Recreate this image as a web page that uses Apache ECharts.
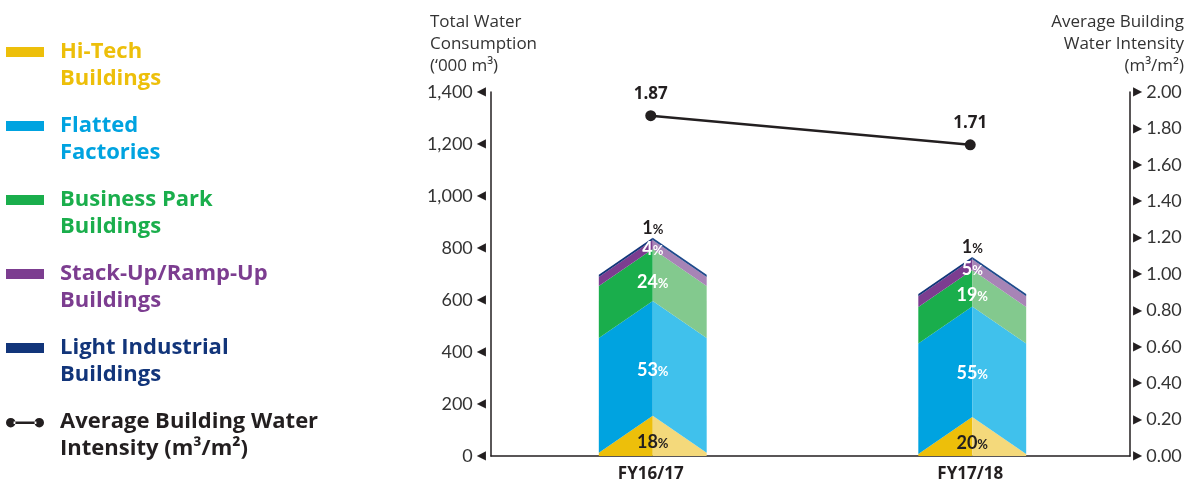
<!DOCTYPE html>
<html><head><meta charset="utf-8">
<script src="https://cdn.jsdelivr.net/npm/echarts@6/dist/echarts.min.js"></script>
<style>html,body{margin:0;padding:0;background:#fff}#c{width:1189px;height:486px}</style>
</head><body><div id="c"></div>
<script>
// ---- data ----
const categories = ['FY16/17', 'FY17/18'];
const seriesNames = ['Hi-Tech Buildings', 'Flatted Factories', 'Business Park Buildings', 'Stack-Up/Ramp-Up Buildings', 'Light Industrial Buildings'];
const legendLabels = ['Hi-Tech\nBuildings', 'Flatted\nFactories', 'Business Park\nBuildings', 'Stack-Up/Ramp-Up\nBuildings', 'Light Industrial\nBuildings'];
const hiTech = [155, 150];
const flatted = [441, 425];
const businessPark = [200, 140];
const stackUp = [35, 42];
const lightIndustrial = [8, 8];
const pctHiTech = ['18', '20'];
const pctFlatted = ['53', '55'];
const pctBusiness = ['24', '19'];
const pctStack = ['4', '5'];
const pctLight = ['1', '1'];
const intensity = [1.87, 1.71];
const lineName = 'Average Building Water Intensity (m³/m²)';
const lineLegendLabel = 'Average Building Water\nIntensity (m³/m²)';
const leftTicks = [0, 200, 400, 600, 800, 1000, 1200, 1400];
const rightTicks = [0, 0.2, 0.4, 0.6, 0.8, 1.0, 1.2, 1.4, 1.6, 1.8, 2.0];

// ---- styles ----
const darkCols = ['#EDBF0A', '#00A3E0', '#1AAE4C', '#7C3D90', '#12357A'];
const lightCols = ['#F4D97B', '#40C1EC', '#83C98E', '#A784B6', '#1F4A8C'];
const legendTextCols = ['#EDBF0A', '#00A3E0', '#1AAE4C', '#7C3D90', '#12357A'];
const labelCols = ['#231F20', '#fff', '#fff', '#fff', '#231F20'];
const FONT = 'Lato, "Open Sans", sans-serif';
const WFONT = '"Open Sans", Lato, sans-serif';
const DROP = 37;
const BAR_RATIO = 0.3375;

const segValues = [hiTech, flatted, businessPark, stackUp, lightIndustrial];
const segPcts = [pctHiTech, pctFlatted, pctBusiness, pctStack, pctLight];

function makeRender(s) {
  return function (params, api) {
    const cat = api.value(0), lo = api.value(1), hi = api.value(2);
    const top = api.coord([cat, hi]);
    const bot = api.coord([cat, lo]);
    const base = api.coord([cat, 0])[1];
    const half = api.size([1, 0])[0] * BAR_RATIO / 2;
    const xc = top[0] + 2, xl = xc - half, xr = xc + half;
    const topC = top[1], topE = Math.min(topC + DROP, base);
    const botC = s === 0 ? base : bot[1];
    const botE = s === 0 ? base : Math.min(bot[1] + DROP, base);
    const pct = segPcts[s][params.dataIndex];
    let ly;
    if (s === 0) ly = base - (base - topC) / 3;
    else if (s === 4) ly = topC - 10;
    else ly = (topC + botC) / 2 + 4 + 0.07 * (botC - topC);
    return {
      type: 'group',
      children: [
        { type: 'polygon', shape: { points: [[xl, topE], [xc, topC], [xc, botC], [xl, botE]] }, style: { fill: darkCols[s] } },
        { type: 'polygon', shape: { points: [[xc, topC], [xr, topE], [xr, botE], [xc, botC]] }, style: { fill: lightCols[s] } },
        { type: 'text', z2: 100, x: xc, y: ly, style: {
            text: '{n|' + pct + '}{p|%}', align: 'center', verticalAlign: 'middle',
            rich: {
              n: { fontSize: 18, fontWeight: 'bold', fill: labelCols[s], fontFamily: FONT },
              p: { fontSize: 13, fontWeight: 'bold', fill: labelCols[s], fontFamily: FONT, padding: [3, 0, 0, 0] }
            } } }
      ]
    };
  };
}

const series = segValues.map(function (vals, s) {
  const data = vals.map(function (v, i) {
    let lo = 0;
    for (let k = 0; k < s; k++) lo += segValues[k][i];
    return [i, lo, lo + v];
  });
  return {
    type: 'custom', name: seriesNames[s], xAxisIndex: 0, yAxisIndex: 0,
    itemStyle: { color: darkCols[s] },
    encode: { x: 0, y: [1, 2] },
    renderItem: makeRender(s), data: data
  };
});
series.push({
  type: 'line', name: lineName, yAxisIndex: 1, data: intensity, z: 10,
  symbol: 'circle', symbolSize: 11,
  itemStyle: { color: '#231F20' }, lineStyle: { color: '#231F20', width: 2.5 },
  label: { show: true, position: 'top', distance: 8, fontSize: 17, fontWeight: 'bold', color: '#231F20', fontFamily: WFONT,
    formatter: function (p) { return p.value.toFixed(2); } }
});

const rectIcon = 'path://M0,0 M38,54 M0,8.5 L38,8.5 L38,18.5 L0,18.5 Z';
const lineIcon = 'path://M0,0 M40,54 M0,13.5 A5,5 0 1,0 10,13.5 A5,5 0 1,0 0,13.5 Z M30,13.5 A5,5 0 1,0 40,13.5 A5,5 0 1,0 30,13.5 Z M8,12.2 L32,12.2 L32,14.8 L8,14.8 Z';
const legendData = seriesNames.map(function (n, i) {
  return { name: n, icon: rectIcon, textStyle: { color: legendTextCols[i] } };
});
legendData.push({ name: lineName, icon: lineIcon, textStyle: { color: '#231F20' } });
const legendMap = {};
seriesNames.forEach(function (n, i) { legendMap[n] = legendLabels[i]; });
legendMap[lineName] = lineLegendLabel;

function fmtThousands(v) { return String(v).replace(/\B(?=(\d{3})+(?!\d))/g, ','); }

const chart = echarts.init(document.getElementById('c'), null, { renderer: 'canvas' });
chart.setOption({
  animation: false,
  backgroundColor: '#fff',
  title: [
    { text: 'Total Water\nConsumption\n(‘000 m³)', left: 430, top: 11, padding: 0,
      textStyle: { fontSize: 17, fontWeight: 'normal', color: '#333', lineHeight: 22, fontFamily: WFONT } },
    { text: 'Average Building\nWater Intensity\n(m³/m²)', left: 1184, top: 11, padding: 0, textAlign: 'right',
      textStyle: { fontSize: 17, fontWeight: 'normal', color: '#333', lineHeight: 22, fontFamily: WFONT } }
  ],
  legend: {
    orient: 'vertical', left: 6, top: 38.5, padding: 0,
    itemWidth: 38, itemHeight: 54, itemGap: 20,
    selectedMode: false,
    data: legendData,
    formatter: function (n) { return legendMap[n]; },
    textStyle: { fontSize: 22, fontWeight: 'bold', lineHeight: 27, fontFamily: WFONT, padding: [0, 0, 0, 11] }
  },
  grid: { left: 491, right: 59, top: 92, bottom: 30 },
  xAxis: {
    type: 'category', data: categories,
    axisLine: { lineStyle: { color: '#231F20', width: 1.5 } },
    axisTick: { show: false },
    axisLabel: { fontSize: 17, fontWeight: 'bold', color: '#231F20', margin: 10, fontFamily: WFONT }
  },
  yAxis: [
    { type: 'value', min: leftTicks[0], max: leftTicks[leftTicks.length - 1], interval: leftTicks[1] - leftTicks[0],
      axisLine: { show: true, lineStyle: { color: '#231F20', width: 1.5 } },
      axisTick: { show: false }, splitLine: { show: false },
      axisLabel: { margin: 5, formatter: function (v) { return '{v|' + fmtThousands(v) + '}{a|◀}'; },
        rich: { v: { fontSize: 18, color: '#333', fontFamily: FONT }, a: { fontSize: 12, color: '#231F20', fontFamily: 'DejaVu Sans', padding: [0, 0, 0, 4] } } } },
    { type: 'value', min: rightTicks[0], max: rightTicks[rightTicks.length - 1], interval: 0.2, position: 'right',
      axisLine: { show: true, lineStyle: { color: '#231F20', width: 1.5 } },
      axisTick: { show: false }, splitLine: { show: false },
      axisLabel: { margin: 3, formatter: function (v) { return '{a|▶}{v|' + v.toFixed(2) + '}'; },
        rich: { v: { fontSize: 18, color: '#333', fontFamily: FONT }, a: { fontSize: 12, color: '#231F20', fontFamily: 'DejaVu Sans', padding: [0, 4, 0, 0] } } } }
  ],
  series: series
});
</script></body></html>
